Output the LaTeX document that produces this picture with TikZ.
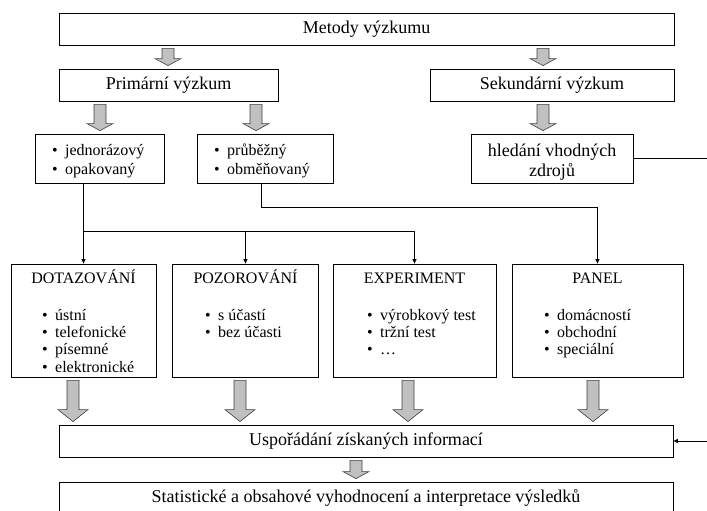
\documentclass[tikz,border=0pt]{standalone}
\usepackage{fontspec}
\setmainfont{Liberation Serif}
\usetikzlibrary{arrows.meta,calc,positioning}
\definecolor{arrowgray}{RGB}{192,192,192}

\newcommand{\itembul}{\makebox[13pt][l]{\textbullet}}
% thick grey arrow: x, from node, to node, head length, head half width
\newcommand{\grayarrow}[5]{%
  \coordinate (ga-x) at (#1,0);
  \path (ga-x |- #2.south) coordinate (ga-top) (ga-x |- #3.north) coordinate (ga-tip);
  \draw[fatbody] ($(ga-top)+(-6,3)$) -- ($(ga-tip)+(-6,-#4-3)$) -- ($(ga-tip)+(-#5,-#4-3)$)
    -- ($(ga-tip)+(0,-3)$) -- ($(ga-tip)+(#5,-#4-3)$) -- ($(ga-tip)+(6,-#4-3)$)
    -- ($(ga-top)+(6,3)$) -- cycle;
}

\begin{document}
\begin{tikzpicture}[x=1pt,y=-1pt,
    box/.style={draw, line width=0.8pt, inner sep=0pt, font=\fontsize{18}{20}\selectfont},
    title/.style={anchor=base, inner sep=0pt, font=\fontsize{16}{18}\selectfont},
    list/.style={anchor=base west, inner sep=0pt, align=left, font=\fontsize{16}{17.4}\selectfont},
    link/.style={line width=0.7pt, -{Triangle[length=4.5pt,width=4pt]}},
    fatbody/.style={fill=arrowgray, draw=black!75, line width=0.6pt, line join=miter}]

\useasboundingbox (0,0) rectangle (707,511);

% top
\node[box, minimum width=615pt, minimum height=32pt] (metody) at (366.5,29) {Metody výzkumu};
\node[box, minimum width=219pt, minimum height=32pt] (primarni) at (168.5,85) {Primární výzkum};
\node[box, minimum width=244pt, minimum height=32pt] (sekundarni) at (552,85) {Sekundární výzkum};

% kinds of research (lists are placed by the baseline of their last line)
\node[box, minimum width=129pt, minimum height=49pt] (jednor) at (99.5,158.5) {};
\node[list, font=\fontsize{16}{19}\selectfont] (jednorlist) at (52,174) {\itembul jednorázový\\\itembul opakovaný};
\node[box, minimum width=136pt, minimum height=49pt] (prubezny) at (265,158.5) {};
\node[list, font=\fontsize{16}{19}\selectfont] (prubeznylist) at (214,174) {\itembul průběžný\\\itembul obměňovaný};
\node[box, minimum width=162pt, minimum height=49pt] (hledani) at (552,158.5) {};
\node[inner sep=0pt, align=center, font=\fontsize{18}{20}\selectfont] (hledanitext) at (552,162) {hledání vhodných\\zdrojů};

% methods
\node[box, minimum width=145pt, minimum height=113pt] (dotaz) at (83.5,320.5) {};
\node[title] (dotaztitle) at (83.5,283) {DOTAZOVÁNÍ};
\node[list] (dotazlist) at (42,372.2) {\itembul ústní\\\itembul telefonické\\\itembul písemné\\\itembul elektronické};
\node[box, minimum width=146pt, minimum height=113pt] (pozor) at (245.5,320.5) {};
\node[title] (pozortitle) at (245.5,283) {POZOROVÁNÍ};
\node[list] (pozorlist) at (205,337.4) {\itembul s účastí\\\itembul bez účasti};
\node[box, minimum width=163pt, minimum height=113pt] (experiment) at (414.5,320.5) {};
\node[title] (experimenttitle) at (414.5,283) {EXPERIMENT};
\node[list] (experimentlist) at (367,354.8) {\itembul výrobkový test\\\itembul tržní test\\\itembul …};
\node[box, minimum width=171pt, minimum height=113pt] (panel) at (597.5,320.5) {};
\node[title] (paneltitle) at (597.5,283) {PANEL};
\node[list] (panellist) at (544,354.8) {\itembul domácností\\\itembul obchodní\\\itembul speciální};

% bottom
\node[box, minimum width=614pt, minimum height=32pt] (usporadani) at (366,441) {Uspořádání získaných informací};
\node[box, minimum width=614pt, minimum height=32pt] (statisticke) at (366,498) {Statistické a obsahové vyhodnocení a interpretace výsledků};

% thin connectors
\coordinate (split) at (83.5,231);
\coordinate (edgetop) at (707,158.5);
\coordinate (edgebottom) at (707,441);
\draw[link] (jednor.south -| dotaz.north) -- (dotaz.north);
\draw[line width=0.7pt] (split) -- (split -| experiment.north);
\draw[link] (split -| pozor.north) -- (pozor.north);
\draw[link] (split -| experiment.north) -- (experiment.north);
\draw[link] ([xshift=-4pt]prubezny.south) -- ++(0,24) -| (panel.north);
\draw[line width=0.7pt] (hledani.east) -- (edgetop);
\draw[link] (edgebottom) -- (usporadani.east);

% grey arrows
\grayarrow{168}{metody}{primarni}{7}{13}
\grayarrow{543}{metody}{sekundarni}{7}{13}
\grayarrow{100}{primarni}{jednor}{7}{13}
\grayarrow{256}{primarni}{prubezny}{7}{13}
\grayarrow{543}{sekundarni}{hledani}{7}{13}
\grayarrow{73}{dotaz}{usporadani}{12}{15}
\grayarrow{240}{pozor}{usporadani}{12}{15}
\grayarrow{408}{experiment}{usporadani}{12}{15}
\grayarrow{593}{panel}{usporadani}{12}{15}
\grayarrow{356}{usporadani}{statisticke}{7}{13}
\end{tikzpicture}
\end{document}
